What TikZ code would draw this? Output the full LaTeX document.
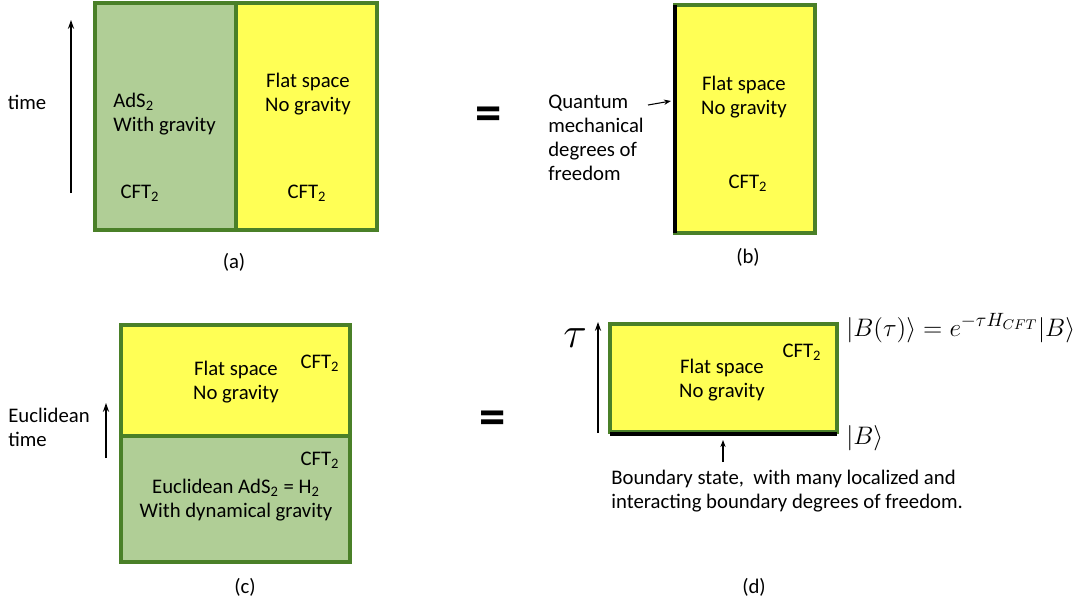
\documentclass[tikz,border=0pt]{standalone}
\usepackage{fontspec}
\setmainfont{Carlito}
\usepackage{amsmath}
\usetikzlibrary{arrows.meta,positioning}
\definecolor{edgegreen}{RGB}{74,128,40}
\definecolor{adsgreen}{RGB}{176,206,150}
\definecolor{flatyellow}{RGB}{255,255,85}
\tikzset{
    greenbox/.style={fill=adsgreen, draw=edgegreen, line width=1.8pt},
    yellowbox/.style={fill=flatyellow, draw=edgegreen, line width=1.8pt},
    wall/.style={line width=2.6pt, black},
    txt/.style={font=\fontsize{11.8}{13.6}\selectfont, inner sep=0pt},
    eqsign/.style={font=\fontsize{30}{30}\selectfont\bfseries, inner sep=0pt},
    timearrow/.style={-{Stealth[length=5pt,width=3.5pt]}, line width=0.8pt},
    pointer/.style={-{Stealth[length=4pt,width=3pt]}, line width=0.6pt}
}
\newcommand{\cfttwo}{CFT\textsubscript{2}}
\begin{document}
\begin{tikzpicture}[x=0.02cm, y=-0.02cm]
    \useasboundingbox (0,0) rectangle (1085,600);

    % Panel (a): AdS2 glued to flat space.
    \filldraw[greenbox] (95,3) rectangle (236,230);
    \filldraw[yellowbox] (236,3) rectangle (377,230);
    \node[txt, anchor=west, align=left] (adsa) at (113,114) {AdS\textsubscript{2}\\With gravity};
    \node[txt, align=center] (flata) at (308,94) {Flat space\\No gravity};
    \node[txt] (cftal) at (140,193) {\cfttwo};
    \node[txt] (cftar) at (307,193) {\cfttwo};
    \node[txt] (timea) at (27,102) {time};
    \coordinate (ta0) at (71,193);
    \coordinate (ta1) at (71,20);
    \draw[timearrow] (ta0) -- (ta1);
    \node[txt] (laba) at (234,262) {(a)};

    \node[eqsign] (eqtop) at (489,119) {=};

    % Panel (b): flat space with a quantum mechanical edge.
    \filldraw[yellowbox] (675,5) rectangle (815,233);
    \coordinate (qmtop) at (675,5);
    \coordinate (qmbot) at (675,233);
    \draw[wall] (qmtop) -- (qmbot);
    \node[txt, align=center] (flatb) at (744,97) {Flat space\\No gravity};
    \node[txt] (cftb) at (748,183) {\cfttwo};
    \node[txt, anchor=west, align=left] (qmdof) at (548,138)
        {Quantum\\mechanical\\degrees of\\freedom};
    \coordinate (qmstart) at (648,105);
    \coordinate (qmend) at (671,101);
    \draw[pointer] (qmstart) -- (qmend);
    \node[txt] (labb) at (748,257) {(b)};

    % Panel (c): Euclidean picture.
    \filldraw[yellowbox] (121,325) rectangle (350,436);
    \filldraw[greenbox] (121,436) rectangle (350,562);
    \node[txt] (cftcu) at (320,363) {\cfttwo};
    \node[txt, align=center] (flatc) at (236,382) {Flat space\\No gravity};
    \node[txt] (cftcl) at (320,460) {\cfttwo};
    \node[txt, align=center] (adsc) at (236,500)
        {Euclidean AdS\textsubscript{2} = H\textsubscript{2}\\With dynamical gravity};
    \node[txt, anchor=west, align=left] (timec) at (8,427) {Euclidean\\time};
    \coordinate (tc0) at (106,458);
    \coordinate (tc1) at (106,403);
    \draw[timearrow] (tc0) -- (tc1);
    \node[txt] (labc) at (245,587) {(c)};

    \node[eqsign] (eqbot) at (493,423) {=};

    % Panel (d): boundary state evolved in Euclidean time.
    \filldraw[yellowbox] (610,324) rectangle (837,432);
    \coordinate (bsl) at (610,434);
    \coordinate (bsr) at (837,434);
    \draw[wall] (bsl) -- (bsr);
    \node[txt] (cftd) at (802,352) {\cfttwo};
    \node[txt, align=center] (flatd) at (722,380) {Flat space\\No gravity};
    \node[inner sep=0pt, font=\fontsize{26}{28}\selectfont] (tau) at (575,338) {$\tau$};
    \coordinate (td0) at (598,433);
    \coordinate (td1) at (598,322);
    \draw[timearrow] (td0) -- (td1);
    \node[inner sep=0pt, anchor=west, font=\fontsize{15.5}{18}\selectfont] (btau) at (846,328)
        {$|B(\tau)\rangle = e^{-\tau H_{CFT}}|B\rangle$};
    \node[inner sep=0pt, anchor=west, font=\fontsize{15.5}{18}\selectfont] (bket) at (846,438)
        {$|B\rangle$};
    \node[txt, anchor=west, align=left] (bstate) at (611,491)
        {Boundary state,\ \ with many localized and\\interacting boundary degrees of freedom.};
    \coordinate (bs0) at (723,462);
    \coordinate (bs1) at (723,440);
    \draw[pointer] (bs0) -- (bs1);
    \node[txt] (labd) at (754,587) {(d)};
\end{tikzpicture}
\end{document}
